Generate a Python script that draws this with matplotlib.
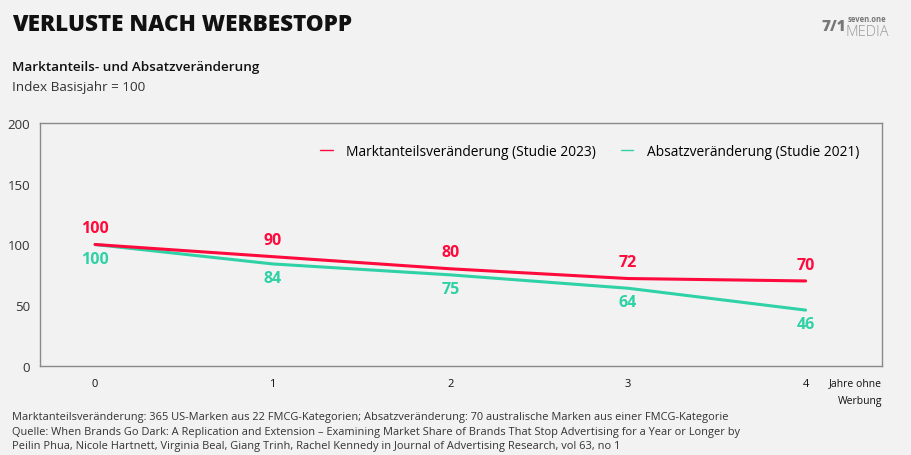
import matplotlib.pyplot as plt

# Daten
years = [0, 1, 2, 3, 4]
year_labels = ['0', '1', '2', '3', '4']
marktanteil = [100, 90, 80, 72, 70]
absatz = [100, 84, 75, 64, 46]
y_ticks = [0, 50, 100, 150, 200]

RED = '#ff0a3c'
TEAL = '#2fd1a6'
BG = '#f2f2f2'
GRAY = '#777777'

plt.rcParams['font.family'] = ['Open Sans', 'DejaVu Sans']

fig = plt.figure(figsize=(9.12, 4.56), dpi=100, facecolor=BG)
ax = fig.add_axes([40 / 912, 1 - 367 / 456, 842 / 912, 243 / 456], facecolor=BG)

ax.plot(years, marktanteil, color=RED, lw=2.2, solid_capstyle='round',
        label='Marktanteilsveränderung (Studie 2023)', zorder=3)
ax.plot(years, absatz, color=TEAL, lw=2.2, solid_capstyle='round',
        label='Absatzveränderung (Studie 2021)', zorder=2)

# Werte-Labels
for x, v in zip(years, marktanteil):
    ax.annotate(str(v), xy=(x, v), xytext=(0, 6), textcoords='offset points',
                ha='center', va='bottom', color=RED, fontsize=11.5, fontweight='bold')
for x, v in zip(years, absatz):
    ax.annotate(str(v), xy=(x, v), xytext=(0, -4.5), textcoords='offset points',
                ha='center', va='top', color=TEAL, fontsize=11.5, fontweight='bold')

ax.set_xlim(-0.31, 4.43)
ax.set_ylim(0, 200)
ax.set_yticks(y_ticks)
ax.set_yticklabels([str(t) for t in y_ticks], fontsize=9.5, color='#333333')
ax.set_xticks(years)
ax.set_xticklabels(year_labels, fontsize=8, color='#111111')
ax.tick_params(axis='both', length=0)
ax.tick_params(axis='x', pad=9)
ax.tick_params(axis='y', pad=7)
for s in ax.spines.values():
    s.set_color('#8a8a8a')
    s.set_linewidth(1.0)

leg = ax.legend(loc='upper right', bbox_to_anchor=(0.988, 0.965), ncol=2, frameon=False,
                fontsize=9.9, handlelength=0.9, handletextpad=1.0, columnspacing=1.8)
for line in leg.get_lines():
    line.set_linewidth(1.0)

# Achsentitel rechts
fig.text(882 / 912, 1 - 384 / 456, 'Jahre ohne', ha='right', va='center', fontsize=7.5, color='#111111')
fig.text(882 / 912, 1 - 402 / 456, 'Werbung', ha='right', va='center', fontsize=7.5, color='#111111')

# Titel
fig.text(12 / 912, 1 - 25 / 456, 'VERLUSTE NACH WERBESTOPP', ha='left', va='center',
         fontsize=16.2, fontweight='heavy', color='#111111')
fig.text(12 / 912, 1 - 68 / 456, 'Marktanteils- und Absatzveränderung', ha='left', va='center',
         fontsize=9.7, fontweight='semibold', color='#111111')
fig.text(12 / 912, 1 - 87 / 456, 'Index Basisjahr = 100', ha='left', va='center',
         fontsize=9.7, color='#333333')

# Logo
fig.text(821 / 912, 1 - 27 / 456, '7/1', ha='left', va='center', fontsize=11,
         fontweight='heavy', color=GRAY)
fig.text(848 / 912, 1 - 19 / 456, 'seven.one', ha='left', va='center', fontsize=5.5,
         fontweight='bold', color=GRAY)
fig.text(846 / 912, 1 - 32 / 456, 'MEDIA', ha='left', va='center', fontsize=10.5,
         fontweight='light', color='#999999')

# Fußnote
notes = [
    'Marktanteilsveränderung: 365 US-Marken aus 22 FMCG-Kategorien; Absatzveränderung: 70 australische Marken aus einer FMCG-Kategorie',
    'Quelle: When Brands Go Dark: A Replication and Extension – Examining Market Share of Brands That Stop Advertising for a Year or Longer by',
    'Peilin Phua, Nicole Hartnett, Virginia Beal, Giang Trinh, Rachel Kennedy in Journal of Advertising Research, vol 63, no 1',
]
for i, t in enumerate(notes):
    fig.text(12 / 912, 1 - (418 + i * 14.5) / 456, t, ha='left', va='center',
             fontsize=7.9, color='#333333')

fig.savefig('out.png', dpi=100, facecolor=BG)
